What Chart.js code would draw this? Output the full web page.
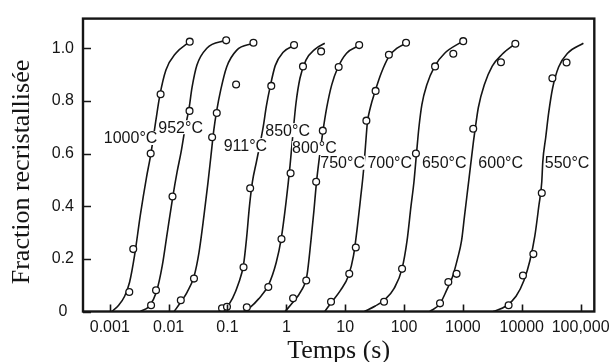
<!DOCTYPE html>
<html><head><meta charset="utf-8">
<script src="https://cdn.jsdelivr.net/npm/chart.js@4/dist/chart.umd.min.js"></script>
<style>html,body{margin:0;padding:0;background:#fff;}canvas{display:block;}</style>
</head><body>
<canvas id="c" width="616" height="362"></canvas>
<script>
// ---- axis ticks ----
const xTickValues = [0.001, 0.01, 0.1, 1, 10, 100, 1000, 10000, 100000];
const xTickLabels = ['0.001', '0.01', '0.1', '1', '10', '100', '1000', '10000', '100,000'];
const yTickValues = [0, 0.2, 0.4, 0.6, 0.8, 1.0];
const yTickLabels = ['0', '0.2', '0.4', '0.6', '0.8', '1.0'];

// ---- temperatures (series names) ----
const temperatures = ['1000°C', '952°C', '911°C', '850°C', '800°C', '750°C', '700°C', '650°C', '600°C', '550°C'];

// ---- fitted curves: time (s) and recrystallised fraction ----
const curve1000T = [0.001081, 0.001418, 0.001789, 0.002171, 0.002636, 0.003326, 0.004196, 0.004997, 0.006112, 0.007083, 0.009006, 0.01327, 0.02284];
const curve1000F = [0, 0.024, 0.058, 0.111, 0.212, 0.370, 0.508, 0.599, 0.730, 0.820, 0.917, 0.981, 1.025];
const curve952T = [0.003327, 0.004714, 0.00618, 0.0078, 0.00947, 0.01172, 0.01396, 0.0163, 0.01903, 0.02222, 0.02497, 0.0303, 0.04465, 0.0933];
const curve952F = [0, 0.021, 0.073, 0.174, 0.298, 0.433, 0.531, 0.606, 0.696, 0.771, 0.850, 0.936, 1.000, 1.030];
const curve911T = [0.01243, 0.01611, 0.02057, 0.02698, 0.03274, 0.03975, 0.04642, 0.05215, 0.05857, 0.06578, 0.07683, 0.09694, 0.1428, 0.2761];
const curve911F = [0, 0.036, 0.073, 0.133, 0.223, 0.362, 0.486, 0.587, 0.689, 0.764, 0.842, 0.929, 0.992, 1.019];
const curve850T = [0.07391, 0.09694, 0.1223, 0.1544, 0.1874, 0.2105, 0.2364, 0.2656, 0.3101, 0.3622, 0.4068, 0.457, 0.5337, 0.6477, 0.8834, 1.353];
const curve850F = [0, 0.017, 0.051, 0.107, 0.178, 0.276, 0.400, 0.493, 0.568, 0.643, 0.704, 0.779, 0.856, 0.934, 0.985, 1.011];
const curve800T = [0.1874, 0.2458, 0.3352, 0.4939, 0.6734, 0.8175, 0.9923, 1.159, 1.302, 1.462, 1.708, 2.154, 3.054, 4.5];
const curve800F = [0, 0.017, 0.047, 0.099, 0.186, 0.276, 0.418, 0.557, 0.681, 0.793, 0.887, 0.955, 0.996, 1.019];
const curve750T = [0.9545, 1.302, 1.775, 2.24, 2.616, 2.938, 3.237, 3.566, 4.164, 4.863, 5.902, 7.447, 10.56, 17.47];
const curve750F = [0, 0.036, 0.077, 0.137, 0.268, 0.381, 0.486, 0.568, 0.681, 0.775, 0.861, 0.925, 0.981, 1.011];
const curve700T = [4.5, 5.902, 8.368, 11.41, 13.85, 16.17, 18.17, 20.4, 22.05, 23.84, 26.77, 32.49, 41.01, 55.93, 76.24, 108.1];
const curve700F = [0, 0.036, 0.081, 0.137, 0.212, 0.325, 0.426, 0.531, 0.625, 0.718, 0.775, 0.839, 0.906, 0.970, 1.000, 1.019];
const curve650T = [21.21, 32.49, 46.06, 67.87, 92.53, 112.3, 131.2, 147.4, 162.4, 178.9, 200.9, 243.9, 332.6, 489.9, 984.7];
const curve650F = [0, 0.021, 0.043, 0.088, 0.163, 0.268, 0.400, 0.493, 0.598, 0.699, 0.786, 0.861, 0.932, 0.981, 1.026];
const curve600T = [274, 403.7, 529.6, 668.4, 811, 947.1, 1064, 1195, 1342, 1508, 1630, 1830, 2310, 3151, 4642, 7988];
const curve600F = [0, 0.028, 0.081, 0.133, 0.201, 0.268, 0.362, 0.456, 0.550, 0.644, 0.700, 0.775, 0.861, 0.932, 0.977, 1.019];
const curve550T = [3276, 5420, 7988, 10890, 13740, 16680, 19480, 21880, 22750, 25550, 28710, 33520, 42300, 59970, 111500];
const curve550F = [0, 0.021, 0.058, 0.118, 0.193, 0.287, 0.400, 0.493, 0.568, 0.662, 0.756, 0.850, 0.929, 0.981, 1.019];

// ---- measured points ----
const mark1000T = [0.002146, 0.002506, 0.004958, 0.007305, 0.02284];
const mark1000F = [0.074, 0.237, 0.600, 0.825, 1.025];
const mark952T = [0.005035, 0.006112, 0.01164, 0.02266, 0.09508];
const mark952F = [0.024, 0.081, 0.437, 0.762, 1.030];
const mark911T = [0.01611, 0.02698, 0.05485, 0.06578, 0.1401, 0.2761];
const mark911F = [0.043, 0.125, 0.662, 0.754, 0.862, 1.021];
const mark850T = [0.08079, 0.09808, 0.1874, 0.2429, 0.5548, 1.353];
const mark850F = [0.012, 0.018, 0.168, 0.468, 0.857, 1.012];
const mark800T = [0.213, 0.4939, 0.8272, 1.181, 1.918, 3.898];
const mark800F = [0.016, 0.093, 0.275, 0.525, 0.931, 0.988];
const mark750T = [1.302, 2.18, 3.212, 4.164, 7.744, 17.28];
const mark750F = [0.050, 0.118, 0.493, 0.687, 0.929, 1.012];
const mark700T = [5.744, 11.72, 15.14, 22.92, 32.87, 55.27, 108.1];
const mark700F = [0.037, 0.143, 0.243, 0.725, 0.838, 0.975, 1.021];
const mark650T = [45.7, 92.53, 159.2, 336.5, 686.8, 1012];
const mark650F = [0.037, 0.162, 0.600, 0.931, 0.979, 1.027];
const mark600T = [408.4, 565.5, 780.3, 1497, 4431, 7773];
const mark600F = [0.031, 0.112, 0.143, 0.694, 0.947, 1.017];
const mark550T = [5973, 10470, 15740, 21880, 33130, 57670];
const mark550F = [0.024, 0.137, 0.218, 0.450, 0.886, 0.946];

// ---- curve label anchors (left edge of text, in data units) ----
const labelT = [0.000793, 0.00668, 0.0863, 0.4395, 1.252, 3.78, 23.84, 200.9, 1830, 24590];
const labelF = [0.659, 0.700, 0.632, 0.689, 0.621, 0.565, 0.565, 0.565, 0.565, 0.565];

const curveT = [curve1000T, curve952T, curve911T, curve850T, curve800T, curve750T, curve700T, curve650T, curve600T, curve550T];
const curveF = [curve1000F, curve952F, curve911F, curve850F, curve800F, curve750F, curve700F, curve650F, curve600F, curve550F];
const markT = [mark1000T, mark952T, mark911T, mark850T, mark800T, mark750T, mark700T, mark650T, mark600T, mark550T];
const markF = [mark1000F, mark952F, mark911F, mark850F, mark800F, mark750F, mark700F, mark650F, mark600F, mark550F];

const INK = '#151515';
const zip = (ts, fs) => ts.map((t, i) => ({ x: t, y: fs[i] }));

const datasets = [];
temperatures.forEach((name, k) => {
  datasets.push({
    label: name + ' (courbe)',
    data: zip(curveT[k], curveF[k]),
    showLine: true,
    borderColor: INK,
    borderWidth: 1.6,
    pointRadius: 0,
    cubicInterpolationMode: 'monotone',
    fill: false,
    order: 2
  });
  datasets.push({
    label: name,
    data: zip(markT[k], markF[k]),
    showLine: false,
    pointStyle: 'circle',
    pointRadius: 3.4,
    pointBorderWidth: 1.3,
    pointBackgroundColor: '#fff',
    pointBorderColor: INK,
    order: 1
  });
});

const decorPlugin = {
  id: 'decor',
  afterDatasetsDraw(chart) {
    const { ctx, chartArea: a, scales: { x, y } } = chart;
    ctx.save();
    // temperature labels with white backing (they mask the curves as in the original)
    ctx.font = '16px "Liberation Sans", Arial, sans-serif';
    ctx.textBaseline = 'middle';
    ctx.textAlign = 'left';
    temperatures.forEach((txt, i) => {
      const px = x.getPixelForValue(labelT[i]);
      const py = y.getPixelForValue(labelF[i]);
      const w = ctx.measureText(txt).width;
      ctx.fillStyle = '#fff';
      ctx.fillRect(px, py - 7, w, 14);
      ctx.fillStyle = INK;
      ctx.fillText(txt, px, py + 1);
    });
    // frame
    ctx.strokeStyle = INK;
    ctx.lineWidth = 2.4;
    ctx.strokeRect(a.left, a.top, a.right - a.left, a.bottom - a.top);
    // inward ticks
    ctx.lineWidth = 1.6;
    ctx.beginPath();
    yTickValues.forEach(v => {
      const py = Math.round(y.getPixelForValue(v)) + 0.5;
      ctx.moveTo(a.left, py); ctx.lineTo(a.left + 8, py);
    });
    xTickValues.forEach(v => {
      const px = Math.round(x.getPixelForValue(v)) + 0.5;
      ctx.moveTo(px, a.bottom); ctx.lineTo(px, a.bottom - 7);
    });
    ctx.stroke();
    // y axis title
    ctx.translate(22, 172);
    ctx.rotate(-Math.PI / 2);
    ctx.textAlign = 'center';
    ctx.textBaseline = 'middle';
    ctx.font = '26px "Liberation Serif", "Times New Roman", serif';
    ctx.fillStyle = INK;
    ctx.fillText('Fraction recristallisée', 0, 0);
    ctx.restore();
  }
};

new Chart(document.getElementById('c'), {
  type: 'scatter',
  data: { datasets },
  options: {
    responsive: false,
    animation: false,
    devicePixelRatio: 1,
    layout: { padding: { left: 0, right: 17, top: 15, bottom: 0 } },
    plugins: { legend: { display: false }, tooltip: { enabled: false } },
    scales: {
      x: {
        type: 'logarithmic',
        min: 3.511e-4,
        max: 1.708e5,
        grid: { display: false, drawTicks: false },
        border: { display: false },
        afterBuildTicks: s => { s.ticks = xTickValues.map(v => ({ value: v })); },
        afterFit: s => { s.height = 50.5; },
        ticks: {
          autoSkip: false, maxRotation: 0, minRotation: 0, padding: 6, color: INK,
          font: { family: '"Liberation Sans", Arial, sans-serif', size: 16 },
          callback: (v, i) => xTickLabels[i]
        },
        title: {
          display: true, text: 'Temps (s)', color: INK,
          font: { family: '"Liberation Serif", "Times New Roman", serif', size: 26, lineHeight: 0.8 },
          padding: { top: 0, bottom: 0 }
        }
      },
      y: {
        min: 0,
        max: 1.1126,
        grid: { display: false, drawTicks: false },
        border: { display: false },
        afterBuildTicks: s => { s.ticks = yTickValues.map(v => ({ value: v })); },
        afterFit: s => { s.width = 83; },
        ticks: {
          crossAlign: 'center', padding: 9, color: INK,
          font: { family: '"Liberation Sans", Arial, sans-serif', size: 16 },
          callback: (v, i) => yTickLabels[i]
        }
      }
    }
  },
  plugins: [decorPlugin]
});
</script>
</body></html>
